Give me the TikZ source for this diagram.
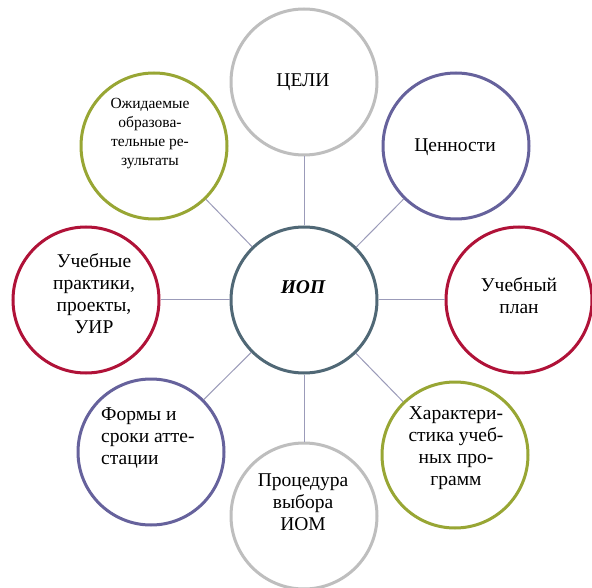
\documentclass[tikz,border=0pt]{standalone}
\usepackage{fontspec}
\setmainfont{Liberation Serif}
\definecolor{cCenter}{RGB}{80,104,118}
\definecolor{cGray}{RGB}{190,190,190}
\definecolor{cPurple}{RGB}{102,98,156}
\definecolor{cRed}{RGB}{176,18,56}
\definecolor{cOlive}{RGB}{152,166,52}
\definecolor{cLink}{RGB}{155,155,185}
\tikzset{
  bubble/.style={circle, draw=#1, line width=3pt, minimum size=146pt, inner sep=0pt, fill=white},
  link/.style={draw=cLink, line width=1pt},
  txt/.style={font=\fontsize{19.5}{22}\selectfont, align=center, inner sep=0pt, text=black},
  smalltxt/.style={font=\fontsize{15.5}{19}\selectfont, align=center, inner sep=0pt, text=black},
}
\begin{document}
\begin{tikzpicture}[x=1pt,y=-1pt]
\useasboundingbox (0,0) rectangle (592,588);
\fill[white] (0,0) rectangle (592,588);
\node[bubble=cCenter] (c) at (304,300) {};
\node[bubble=cGray]   (n1) at (304,82) {};
\node[bubble=cPurple] (n2) at (456,146) {};
\node[bubble=cRed]    (n3) at (519,300) {};
\node[bubble=cOlive]  (n4) at (455,455) {};
\node[bubble=cGray]   (n5) at (304,516) {};
\node[bubble=cPurple] (n6) at (151,452) {};
\node[bubble=cRed]    (n7) at (86,300) {};
\node[bubble=cOlive]  (n8) at (154,146) {};
\foreach \n in {n1,n2,n3,n4,n5,n6,n7,n8} {\draw[link] (c) -- (\n);}
\node[txt, font=\fontsize{19.5}{22}\selectfont\bfseries\itshape] (tc) at (303,287) {ИОП};
\node[txt] (t1) at (303,82) {ЦЕЛИ};
\node[txt] (t2) at (455,147) {Ценности};
\node[txt] (t3) at (519,296) {Учебный\\план};
\node[txt] (t4) at (456,448) {Характери-\\стика учеб-\\ных про-\\грамм};
\node[txt] (t5) at (303,502) {Процедура\\выбора\\ИОМ};
\node[txt, align=left, anchor=west] (t6) at (101,438) {Формы и\\сроки атте-\\стации};
\node[txt] (t7) at (94,294) {Учебные\\практики,\\проекты,\\УИР};
\node[smalltxt] (t8) at (150,134) {Ожидаемые\\образова-\\тельные ре-\\зультаты};
\end{tikzpicture}
\end{document}
